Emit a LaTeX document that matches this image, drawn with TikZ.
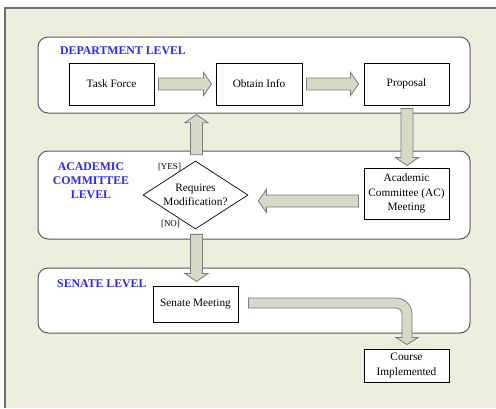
\documentclass[tikz,border=0pt]{standalone}
\usepackage{fontspec}
\setmainfont{Liberation Serif}
\newfontfamily\timesfam{Liberation Serif}
\usetikzlibrary{calc,shapes.geometric}

\definecolor{paper}{HTML}{ECEDDD}
\definecolor{framegray}{HTML}{6E6E6E}
\definecolor{panelline}{HTML}{5A5A5A}
\definecolor{arrowfill}{HTML}{D5D9C5}
\definecolor{arrowline}{HTML}{7A7A7A}
\definecolor{levelblue}{HTML}{2A2AF5}

\tikzset{
  panel/.style={draw=panelline, line width=1pt, fill=white, rounded corners=10pt},
  stepbox/.style={draw=black, line width=0.9pt, fill=white, inner sep=0pt,
    align=center, font=\timesfam\fontsize{11.3}{14.5}\selectfont},
  decision/.style={diamond, draw=black, line width=0.7pt, fill=white, inner sep=0pt,
    aspect=1.55, minimum width=105pt, minimum height=68pt, align=center,
    font=\timesfam\fontsize{11.3}{14}\selectfont},
  levellabel/.style={text=levelblue, font=\timesfam\fontsize{11.8}{14}\selectfont\bfseries,
    align=center, inner sep=0pt},
  guard/.style={font=\timesfam\fontsize{9}{10}\selectfont, inner sep=0pt},
  barrow/.style={draw=arrowline, fill=arrowfill, line width=0.8pt, line join=miter},
}

% straight block arrow from tail #1 to tip #2
\newcommand\blockarrow[2]{%
  \coordinate (ba-h) at ($(#2)!8pt!(#1)$);
  \draw[barrow] ($(#1)!6pt!90:(#2)$) -- ($(ba-h)!6pt!90:(#2)$)
    -- ($(ba-h)!11.5pt!90:(#2)$) -- (#2) -- ($(ba-h)!11.5pt!-90:(#2)$)
    -- ($(ba-h)!6pt!-90:(#2)$) -- ($(#1)!6pt!-90:(#2)$) -- cycle;
}

\begin{document}
\begin{tikzpicture}[x=1pt, y=-1pt]
  \useasboundingbox (0,0) rectangle (496,408);
  \fill[white] (0,0) rectangle (496,408);

  % page frame
  \fill[paper] (5,8) rectangle (496,408);
  \draw[framegray, line width=1.5pt] (5,408) -- (5,8) -- (496,8);

  % level panels
  \draw[panel] (38,37) rectangle (470,113);
  \draw[panel] (38,151) rectangle (470,239);
  \draw[panel] (38,268) rectangle (470,333);

  \node[levellabel, anchor=west] (deptlbl) at (60,51) {DEPARTMENT LEVEL};
  \node[levellabel] (aclbl) at (91,181) {ACADEMIC\\COMMITTEE\\LEVEL};
  \node[levellabel, anchor=west] (senlbl) at (57,284) {SENATE LEVEL};

  % process steps
  \node[stepbox, minimum width=85pt, minimum height=42pt] (tf) at (111.5,84) {Task Force};
  \node[stepbox, minimum width=86pt, minimum height=42pt] (oi) at (259,84) {Obtain Info};
  \node[stepbox, minimum width=85pt, minimum height=42pt] (pr) at (406.5,84) {Proposal};
  \node[stepbox, minimum width=85pt, minimum height=51pt] (ac) at (406.5,193.5)
    {Academic\\Committee (AC)\\Meeting};
  \node[decision] (dm) at (195.5,195) {Requires\\Modification?};
  \node[stepbox, minimum width=85pt, minimum height=36pt] (sm) at (195.5,304) {Senate Meeting};
  \node[stepbox, minimum width=85pt, minimum height=33pt] (ci) at (406.5,365.5)
    {Course\\Implemented};

  \node[guard] (yes) at (169.5,167) {[YES]};
  \node[guard] (no) at (170.5,224) {[NO]};

  % arrow end points
  \coordinate (a1t) at ($(tf.east)+(4,0)$);
  \coordinate (a1h) at ($(oi.west)+(-4,0)$);
  \coordinate (a2t) at ($(oi.east)+(4,0)$);
  \coordinate (a2h) at ($(pr.west)+(-5,0)$);
  \coordinate (a3t) at ($(pr.south)+(0.5,3)$);
  \coordinate (a3h) at ($(ac.north)+(0.5,-2)$);
  \coordinate (a4t) at ($(ac.west)+(-5,7.5)$);
  \coordinate (a4h) at ($(dm.east)+(10,6)$);
  \coordinate (a5t) at ($(dm.north)+(1,-6)$);
  \coordinate (a5h) at ($(dm.north)+(1,-46)$);
  \coordinate (a6t) at ($(dm.south)+(1,5)$);
  \coordinate (a6h) at ($(sm.north)+(1,-4)$);
  \coordinate (a7t) at ($(sm.east)+(10,-1)$);
  \coordinate (a7h) at ($(ci.north)+(0.5,-4)$);

  \blockarrow{a1t}{a1h}
  \blockarrow{a2t}{a2h}
  \blockarrow{a3t}{a3h}
  \blockarrow{a4t}{a4h}
  \blockarrow{a5t}{a5h}
  \blockarrow{a6t}{a6h}

  % bent arrow from the senate meeting down to the implemented course
  \draw[barrow] let \p1=(a7t), \p2=(a7h) in
    (\x1,\y1+5pt) [rounded corners=16pt] -- (\x2+5pt,\y1+5pt) [sharp corners]
    -- (\x2+5pt,\y2+7pt) -- (\x2+11pt,\y2+7pt) -- (\p2) -- (\x2-11pt,\y2+7pt)
    -- (\x2-5pt,\y2+7pt) [rounded corners=6pt] -- (\x2-5pt,\y1-5pt) [sharp corners]
    -- (\x1,\y1-5pt) -- cycle;
\end{tikzpicture}
\end{document}
